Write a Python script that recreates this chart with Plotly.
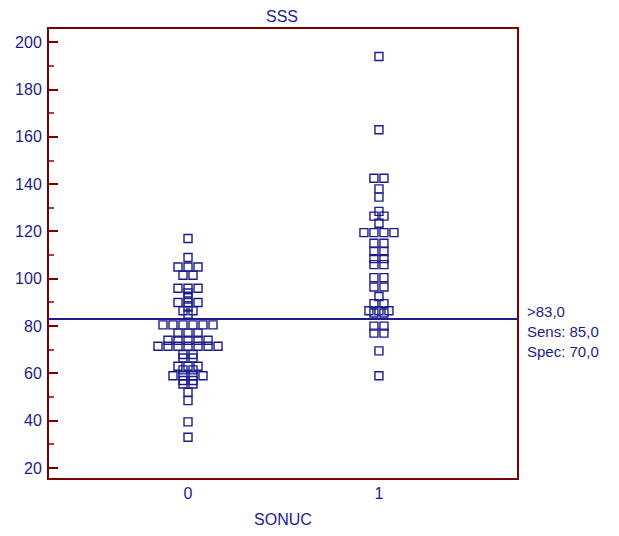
import plotly.graph_objects as go
from collections import Counter

# Data
group0_values = [117, 109, 105, 105, 105, 101.5, 101.5, 96, 96, 96, 94, 92,
                 90, 90, 90, 88, 86.5, 86.5, 85,
                 80.5, 80.5, 80.5, 80.5, 80.5, 80.5, 77, 77, 77,
                 74, 74, 74, 74, 74, 71.5, 71.5, 71.5, 71.5, 71.5, 71.5, 71.5,
                 68, 68, 66.5, 66.5, 63, 63, 63, 61.5, 61.5, 59, 59, 59, 59,
                 57, 57, 55.5, 55.5, 52, 48.5, 39.5, 33]
group1_values = [194, 163, 142.5, 142.5, 138, 134.5, 128.5, 126.5, 126.5, 123.5,
                 119.5, 119.5, 119.5, 119.5, 115, 115, 111.5, 111.5, 108.5, 108.5,
                 106, 106, 100.5, 100.5, 96.5, 96.5, 92.5, 89.5, 89.5,
                 86.5, 86.5, 86.5, 85.5, 85.5, 80, 80, 77, 77, 69.5, 59]
group_categories = [0, 1]
cutoff = 83.0
cutoff_labels = [">83,0", "Sens: 85,0", "Spec: 70,0"]
y_tick_values = [20, 40, 60, 80, 100, 120, 140, 160, 180, 200]

NAVY = "#1c1c8c"
FRAME = "#7a0000"
SPACING = 0.0524  # horizontal spacing of stacked points (x units)
FONT = "Liberation Sans, Arial, sans-serif"


def jitter(center, values):
    counts = Counter(values)
    seen = Counter()
    xs = []
    for v in values:
        n = counts[v]
        i = seen[v]
        seen[v] += 1
        xs.append(center + (i - (n - 1) / 2) * SPACING)
    return xs


fig = go.Figure()
for cat, vals in zip(group_categories, [group0_values, group1_values]):
    fig.add_trace(go.Scatter(
        x=jitter(cat, vals), y=vals, mode="markers",
        marker=dict(symbol="square-open", size=8, color=NAVY,
                    line=dict(width=1.4, color=NAVY)),
        showlegend=False, hoverinfo="y"))

fig.add_shape(type="line", xref="paper", x0=0, x1=1, yref="y", y0=cutoff, y1=cutoff,
              line=dict(color=NAVY, width=2))

for k, txt in enumerate(cutoff_labels):
    fig.add_annotation(text=txt, xref="paper", x=1, xanchor="left", xshift=8,
                       yref="y", y=cutoff, yshift=7 - 20 * k, showarrow=False,
                       font=dict(size=15, color=NAVY, family=FONT))

# the page body has an 8px margin, so margins are compensated by 8px
fig.update_layout(
    width=619, height=536,
    margin=dict(l=41, r=110, t=21, b=66, autoexpand=False),
    paper_bgcolor="white", plot_bgcolor="white",
    font=dict(family=FONT, size=16, color=NAVY),
    title=dict(text="SSS", x=(274 / 619), xanchor="center",
               y=1 - 3 / 536, yanchor="top", pad=dict(t=0, b=0),
               font=dict(size=16, color=NAVY)),
    xaxis=dict(range=[-0.728, 1.723], tickvals=group_categories,
               ticktext=[str(c) for c in group_categories],
               showgrid=False, zeroline=False, showline=True, linecolor=FRAME,
               linewidth=2, mirror=True, ticks="", ticklabelstandoff=0,
               title=dict(text="SONUC", standoff=13, font=dict(size=16, color=NAVY))),
    yaxis=dict(range=[15.77, 205.6], tickvals=y_tick_values,
               showgrid=False, zeroline=False, showline=True, linecolor=FRAME,
               linewidth=2, mirror=True, ticks="inside", ticklen=9, tickwidth=1.5,
               tickcolor=FRAME, ticklabelstandoff=2,
               minor=dict(dtick=10, ticks="inside", ticklen=5, tickwidth=1.5,
                          tickcolor="#a04040")),
)

fig.write_html("out.html")
